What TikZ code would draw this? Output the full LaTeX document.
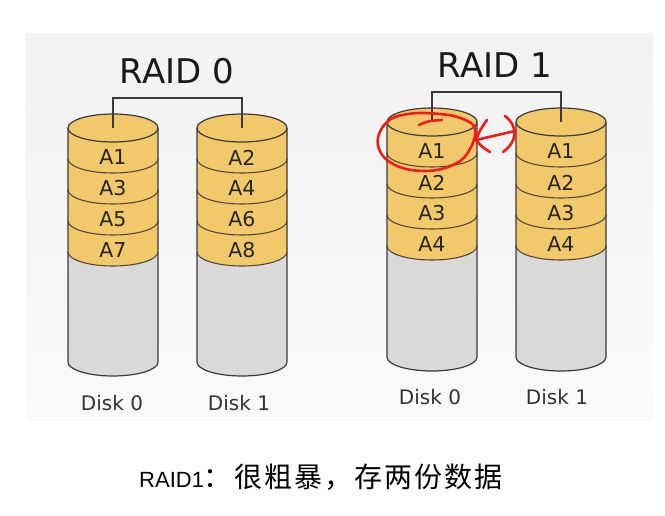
\documentclass[tikz,border=0pt]{standalone}
\usepackage{fontspec}
\setmainfont{DejaVu Sans}
\newfontfamily\cjkfont{Noto Sans CJK SC}
\newfontfamily\capfont{Liberation Sans}
\definecolor{bggray}{HTML}{F2F2F2}
\definecolor{bgbot}{HTML}{FAFAFA}
\definecolor{diskyellow}{HTML}{F1C96B}
\definecolor{diskgray}{HTML}{D9D9D9}
\definecolor{edge}{HTML}{3A3A3A}
\definecolor{penred}{HTML}{F21A1A}
\tikzset{
  diskedge/.style={draw=edge, line width=1.2pt},
  bandedge/.style={draw=edge!80!brown, line width=1.1pt},
  blocklabel/.style={font=\fontsize{20.5}{22}\selectfont, text=black!85, inner sep=0pt},
  disklabel/.style={font=\fontsize{20}{22}\selectfont, text=black!80, inner sep=0pt},
  raidtitle/.style={font=\fontsize{34}{38}\selectfont, text=black!90, inner sep=0pt},
  bracket/.style={draw=edge, line width=1.1pt},
  pen/.style={draw=penred, line width=2.6pt, line cap=round, line join=round},
}
\newcommand{\drawdisk}[5]{%
  \coordinate (#1top) at (#2,#3);
  \fill[diskgray] (#2-45,#3) -- (#2-45,#4) arc[start angle=180,end angle=360,x radius=45pt,y radius=14pt] -- (#2+45,#3) -- cycle;
  \fill[diskyellow] (#2-45,#3) -- (#2-45,#3+124) arc[start angle=180,end angle=360,x radius=45pt,y radius=14pt] -- (#2+45,#3) -- cycle;
  \foreach \k in {1,...,4} {
    \draw[bandedge] (#2-45,#3+31*\k) arc[start angle=180,end angle=360,x radius=45pt,y radius=14pt];
  }
  \filldraw[fill=diskyellow, diskedge] (#2,#3) ellipse[x radius=45pt, y radius=14pt];
  \draw[diskedge] (#2-45,#3) -- (#2-45,#4) arc[start angle=180,end angle=360,x radius=45pt,y radius=14pt] -- (#2+45,#3);
  \foreach \lab [count=\k] in {#5} {
    \node[blocklabel] (#1l\k) at (#2,#3+29.5+31*\k-31) {\lab};
  }
}
\begin{document}
\begin{tikzpicture}[x=1pt,y=-1pt]
\useasboundingbox (0,0) rectangle (665,516);
\fill[white] (0,0) rectangle (665,516);
\shade[top color=bggray, bottom color=bgbot] (26,34) rectangle (653,420);

% RAID 0
\node[raidtitle] (r0title) at (177,71) {RAID 0};
\drawdisk{r0d0}{113}{128}{362}{A1,A3,A5,A7}
\drawdisk{r0d1}{242}{128}{362}{A2,A4,A6,A8}
\coordinate (r0bar) at (177,98);
\draw[bracket] (r0d0top) |- (r0bar) -| (r0d1top);
\node[disklabel] (r0d0name) at (112,403) {Disk 0};
\node[disklabel] (r0d1name) at (239,403) {Disk 1};

% RAID 1
\node[raidtitle] (r1title) at (495,65) {RAID 1};
\drawdisk{r1d0}{432}{122}{357}{A1,A2,A3,A4}
\drawdisk{r1d1}{561}{122}{357}{A1,A2,A3,A4}
\coordinate (r1bar) at (497,92);
\draw[bracket] (r1d0top) |- (r1bar) -| (r1d1top);
\node[disklabel] (r1d0name) at (430,397) {Disk 0};
\node[disklabel] (r1d1name) at (557,397) {Disk 1};

% red annotations
\draw[pen] plot[smooth cycle, tension=0.7] coordinates {(386,123) (408,114) (440,114) (463,119) (475,129) (470,149) (455,164) (425,171) (393,164) (378,145)};
\draw[pen] (419,125) .. controls (428,121) .. (442,120);
\draw[pen] (476,140) -- (515,131);
\draw[pen] (487,120) .. controls (480,130) .. (476,140) .. controls (482,147) .. (490,152);
\draw[pen] (505,116) .. controls (520,128) and (516,143) .. (503,152);

% caption
\node[anchor=base west, inner sep=0pt] (caption) at (139,487) {{\capfont\fontsize{22}{26}\selectfont RAID1}{\cjkfont\fontsize{28}{32}\selectfont\addfontfeatures{LetterSpace=7.5}：很粗暴，存两份数据}};
\end{tikzpicture}
\end{document}
